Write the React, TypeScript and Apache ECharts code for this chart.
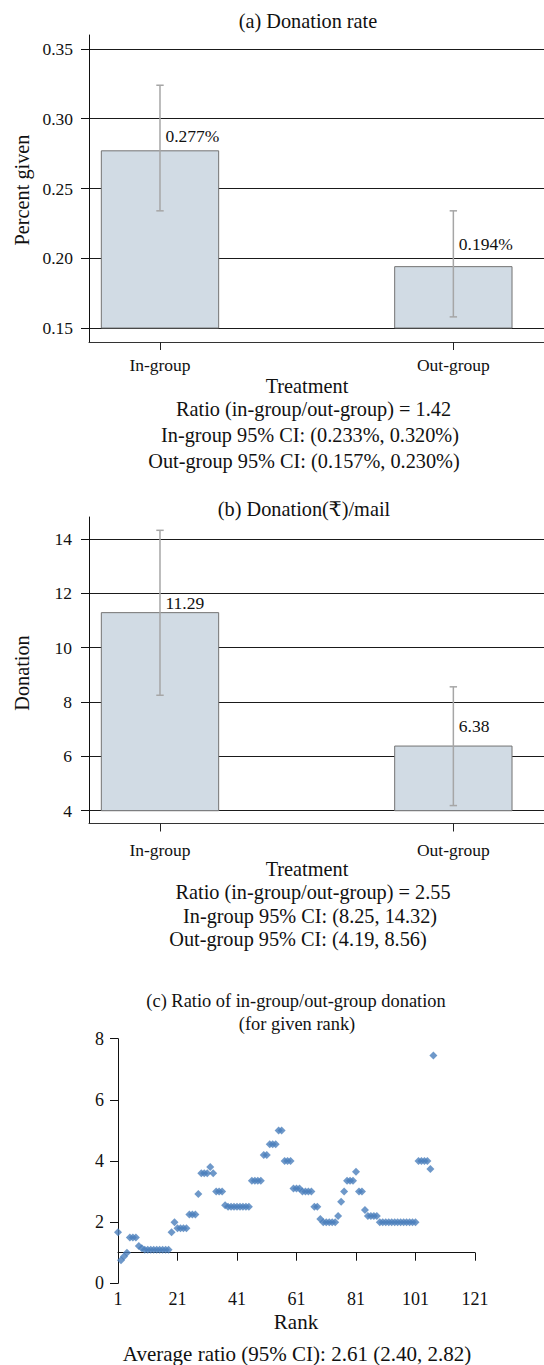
import React, { useEffect, useRef } from 'react';
import * as echarts from 'echarts';

// ---------- data ----------
const groups = ['In-group', 'Out-group'];

const rateMeans = [0.277, 0.194];
const rateLow = [0.234, 0.158];
const rateHigh = [0.324, 0.234];
const rateTicks = [0.15, 0.2, 0.25, 0.3, 0.35];

const donMeans = [11.29, 6.38];
const donLow = [8.25, 4.19];
const donHigh = [14.32, 8.56];
const donTicks = [4, 6, 8, 10, 12, 14];

// ratio of in-group/out-group donation for rank 1, 2, 3, ...
const ratioByRank = [
  1.67, 0.75, 0.88, 1.0, 1.5, 1.5, 1.5, 1.22, 1.15, 1.1,
  1.1, 1.1, 1.1, 1.1, 1.1, 1.1, 1.1, 1.1, 1.67, 2.0,
  1.8, 1.8, 1.8, 1.8, 2.25, 2.25, 2.25, 2.92, 3.6, 3.6,
  3.6, 3.8, 3.6, 3.0, 3.0, 3.0, 2.55, 2.5, 2.5, 2.5,
  2.5, 2.5, 2.5, 2.5, 2.5, 3.35, 3.35, 3.35, 3.35, 4.2,
  4.2, 4.55, 4.55, 4.55, 5.0, 5.0, 4.0, 4.0, 4.0, 3.1,
  3.1, 3.1, 3.0, 3.0, 3.0, 3.0, 2.5, 2.5, 2.1, 2.0,
  2.0, 2.0, 2.0, 2.0, 2.2, 2.67, 3.0, 3.35, 3.35, 3.35,
  3.65, 3.0, 3.0, 2.4, 2.2, 2.2, 2.2, 2.2, 2.0, 2.0,
  2.0, 2.0, 2.0, 2.0, 2.0, 2.0, 2.0, 2.0, 2.0, 2.0,
  2.0, 4.0, 4.0, 4.0, 4.0, 3.74, 7.45,
];
const ratioBaseline = 1;

const titleA = '(a) Donation rate';
const titleB = '(b) Donation(₹)/mail';
const titleC1 = '(c) Ratio of in-group/out-group donation';
const titleC2 = '(for given rank)';
const notesA = [
  'Ratio (in-group/out-group) = 1.42',
  'In-group 95% CI: (0.233%, 0.320%)',
  'Out-group 95% CI: (0.157%, 0.230%)',
];
const notesB = [
  'Ratio (in-group/out-group) = 2.55',
  'In-group 95% CI: (8.25, 14.32)',
  'Out-group 95% CI: (4.19, 8.56)',
];
const noteC = 'Average ratio (95% CI): 2.61 (2.40, 2.82)';

// ---------- styles ----------
const FONT = '"Liberation Serif", "DejaVu Serif", serif';
const INK = '#111';
const BAR_FILL = '#d1dbe4';
const BAR_EDGE = '#737373';
const ERR = '#a6a6a6';
const DOT = '#4a7ebb';

function barRenderer(base: number, labels: string[], offsets: number[]) {
  return (params: any, api: any) => {
    const x = api.value(0);
    const v = api.value(1);
    const lo = api.value(2);
    const hi = api.value(3);
    const tl = api.coord([x - 0.2, v]);
    const br = api.coord([x + 0.2, base]);
    const c = api.coord([x, v]);
    const cLo = api.coord([x, lo]);
    const cHi = api.coord([x, hi]);
    const cap = 3.7;
    const i = params.dataIndex;
    return {
      type: 'group',
      children: [
        {
          type: 'rect',
          shape: { x: tl[0], y: tl[1], width: br[0] - tl[0], height: br[1] - tl[1] },
          style: { fill: BAR_FILL, stroke: BAR_EDGE, lineWidth: 1 },
        },
        {
          type: 'line',
          shape: { x1: c[0], y1: cLo[1], x2: c[0], y2: cHi[1] },
          style: { stroke: ERR, lineWidth: 1.5 },
        },
        {
          type: 'line',
          shape: { x1: c[0] - cap, y1: cHi[1], x2: c[0] + cap, y2: cHi[1] },
          style: { stroke: ERR, lineWidth: 1.5 },
        },
        {
          type: 'line',
          shape: { x1: c[0] - cap, y1: cLo[1], x2: c[0] + cap, y2: cLo[1] },
          style: { stroke: ERR, lineWidth: 1.5 },
        },
        {
          type: 'text',
          style: {
            text: labels[i],
            x: c[0] + 5.5,
            y: c[1] + offsets[i],
            align: 'left',
            verticalAlign: 'middle',
            fontSize: 17.5,
            fontFamily: FONT,
            fill: INK,
          },
        },
      ],
    };
  };
}

function txt(x: number, y: number, text: string, size: number, rotation = 0) {
  return {
    type: 'text',
    x,
    y,
    rotation,
    style: {
      text,
      align: 'center',
      verticalAlign: 'middle',
      fontSize: size,
      fontFamily: FONT,
      fill: INK,
    },
  };
}

export default function App() {
  const ref = useRef<HTMLDivElement>(null);

  useEffect(() => {
    if (!ref.current) return;
    const chart = echarts.init(ref.current, undefined, { renderer: 'svg' });

    const rateData = groups.map((_, i) => [i, rateMeans[i], rateLow[i], rateHigh[i]]);
    const donData = groups.map((_, i) => [i, donMeans[i], donLow[i], donHigh[i]]);
    const rateLabels = rateMeans.map((v) => v.toFixed(3) + '%');
    const donLabels = donMeans.map((v) => v.toFixed(2));
    const scatterData = ratioByRank.map((v, i) => [i + 1, v]);

    const gridCHeight = 244.6;
    const yCMax = 8;

    const catAxis = (gridIndex: number, margin: number) => ({
      gridIndex,
      type: 'value',
      min: -0.242,
      max: 1.309,
      axisLine: { show: true, onZero: false, lineStyle: { color: '#333', width: 1 } },
      axisTick: { show: true, customValues: [0, 1], length: 8, lineStyle: { color: '#222', width: 1 } },
      axisLabel: {
        show: true,
        customValues: [0, 1],
        formatter: (v: number) => groups[Math.round(v)],
        margin,
        fontSize: 17.5,
        fontFamily: FONT,
        color: INK,
      },
      splitLine: { show: false },
    });

    const valAxis = (gridIndex: number, min: number, max: number, ticks: number[], fmt: (v: number) => string, margin: number) => ({
      gridIndex,
      type: 'value',
      min,
      max,
      axisLine: { show: true, onZero: false, lineStyle: { color: '#111', width: 1 } },
      axisTick: { show: true, customValues: ticks, length: 8, lineStyle: { color: '#111', width: 1 } },
      axisLabel: { show: true, customValues: ticks, formatter: fmt, margin, fontSize: 17.5, fontFamily: FONT, color: INK },
      splitLine: { show: true, lineStyle: { color: '#1a1a1a', width: 1 } },
    });

    const option: any = {
      animation: false,
      textStyle: { fontFamily: FONT },
      grid: [
        { left: 89, top: 35, width: 455, height: 307 },
        { left: 89, top: 517, width: 455, height: 306.5 },
        { left: 118, top: 1038.7, width: 357, height: gridCHeight },
      ],
      xAxis: [
        catAxis(0, 14),
        catAxis(1, 17),
        {
          gridIndex: 2,
          type: 'value',
          position: 'bottom',
          min: 1,
          max: 121,
          interval: 20,
          axisLine: { show: false, onZero: false },
          axisTick: { show: false },
          axisLabel: { show: true, margin: 7, fontSize: 18, fontFamily: FONT, color: INK },
          splitLine: { show: false },
        },
        {
          // axis line drawn through ratio = 1 (placed from the top of the grid)
          gridIndex: 2,
          type: 'value',
          position: 'top',
          min: 1,
          max: 121,
          interval: 20,
          offset: -gridCHeight * (yCMax - ratioBaseline) / yCMax,
          axisLine: { show: true, onZero: false, lineStyle: { color: '#111', width: 1 } },
          axisTick: { show: true, inside: true, length: 8, lineStyle: { color: '#111', width: 1 } },
          axisLabel: { show: false },
          splitLine: { show: false },
        },
      ],
      yAxis: [
        valAxis(0, 0.14, 0.36, rateTicks, (v) => v.toFixed(2), 16),
        valAxis(1, 3.53, 14.81, donTicks, (v) => String(v), 17),
        {
          gridIndex: 2,
          type: 'value',
          min: 0,
          max: yCMax,
          interval: 2,
          axisLine: { show: true, onZero: false, lineStyle: { color: '#111', width: 1 } },
          axisTick: { show: true, length: 8, lineStyle: { color: '#111', width: 1 } },
          axisLabel: { show: true, margin: 14, fontSize: 18, fontFamily: FONT, color: INK },
          splitLine: { show: false },
        },
      ],
      series: [
        {
          type: 'custom',
          xAxisIndex: 0,
          yAxisIndex: 0,
          data: rateData,
          encode: { x: 0, y: 1 },
          renderItem: barRenderer(0.15, rateLabels, [-15, -23]),
          z: 3,
        },
        {
          type: 'custom',
          xAxisIndex: 1,
          yAxisIndex: 1,
          data: donData,
          encode: { x: 0, y: 1 },
          renderItem: barRenderer(4, donLabels, [-10, -20]),
          z: 3,
        },
        {
          type: 'scatter',
          xAxisIndex: 2,
          yAxisIndex: 2,
          data: scatterData,
          symbol: 'diamond',
          symbolSize: 8,
          itemStyle: { color: DOT },
          z: 4,
        },
      ],
      graphic: [
        txt(308, 21, titleA, 20.3),
        txt(22, 190, 'Percent given', 20.3, Math.PI / 2),
        txt(307, 386, 'Treatment', 20.3),
        txt(313.5, 409, notesA[0], 20.3),
        txt(310, 435, notesA[1], 20.3),
        txt(304, 461, notesA[2], 20.3),

        txt(304, 509, titleB, 20.3),
        txt(22, 673, 'Donation', 20.3, Math.PI / 2),
        txt(307, 869, 'Treatment', 20.3),
        txt(313, 892, notesB[0], 20.3),
        txt(310, 916, notesB[1], 20.3),
        txt(298, 939, notesB[2], 20.3),

        txt(296, 1001, titleC1, 18.4),
        txt(297, 1024, titleC2, 18.4),
        txt(296, 1322, 'Rank', 21),
        txt(297, 1354, noteC, 21),
      ],
    };

    chart.setOption(option);
    return () => chart.dispose();
  }, []);

  return (
    <div
      ref={ref}
      style={{ position: 'absolute', left: 0, top: 0, width: 544, height: 1365, background: '#fff' }}
    />
  );
}
